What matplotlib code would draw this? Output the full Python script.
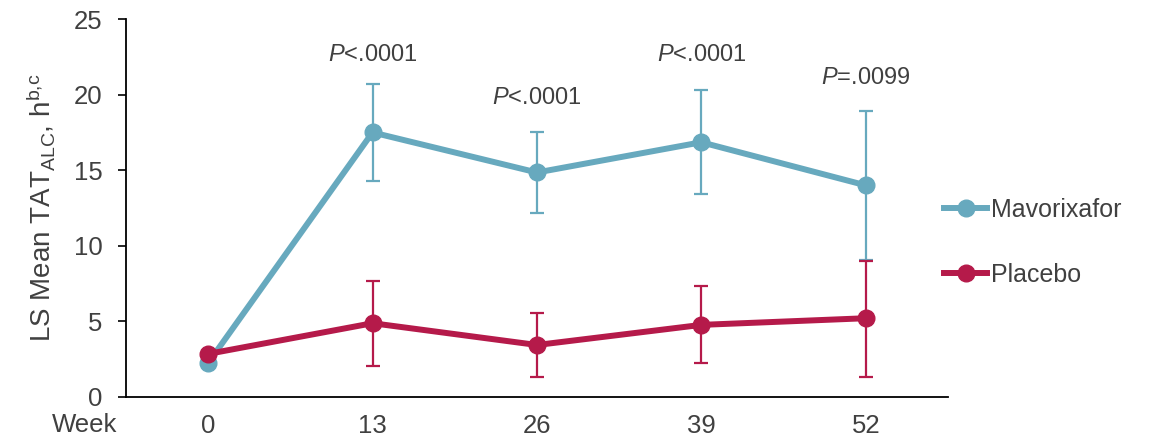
import matplotlib.pyplot as plt

plt.rcParams["font.family"] = ["Liberation Sans", "DejaVu Sans"]
plt.rcParams["mathtext.fontset"] = "custom"
plt.rcParams["mathtext.rm"] = "Liberation Sans"
plt.rcParams["mathtext.it"] = "Liberation Sans:italic"

weeks = ["0", "13", "26", "39", "52"]

mavo_mean = [2.25, 17.5, 14.85, 16.85, 14.0]
mavo_upper = [2.25, 20.7, 17.5, 20.3, 18.95]
mavo_lower = [2.25, 14.3, 12.2, 13.4, 9.07]

plac_mean = [2.85, 4.88, 3.44, 4.77, 5.21]
plac_upper = [2.85, 7.68, 5.54, 7.35, 9.0]
plac_lower = [2.85, 2.07, 1.3, 2.27, 1.3]

p_labels = ["", "<.0001", "<.0001", "<.0001", "=.0099"]
p_heights = [0, 22.6, 19.8, 22.6, 21.1]

teal = "#67a9be"
crimson = "#b51a4a"
grey = "#404040"

fig = plt.figure(figsize=(11.66, 4.41), dpi=100)
ax = fig.add_axes([0.108, 0.0998, 0.705, 0.857])

x = list(range(len(weeks)))

def draw(mean, lo, hi, color, label):
    err = [[m - l for m, l in zip(mean, lo)], [h - m for m, h in zip(mean, hi)]]
    ax.errorbar(x[1:], mean[1:], yerr=[err[0][1:], err[1][1:]], fmt="none",
                ecolor=color, elinewidth=1.6, capsize=5, capthick=1.6)
    ax.plot(x, mean, color=color, lw=4.3, marker="o", markersize=12, label=label)

draw(mavo_mean, mavo_lower, mavo_upper, teal, "Mavorixafor")
draw(plac_mean, plac_lower, plac_upper, crimson, "Placebo")

for i, (lab, h) in enumerate(zip(p_labels, p_heights)):
    if lab:
        ax.text(x[i], h, "$\\mathit{P}$" + lab, ha="center", va="center",
                fontsize=17, color=grey)

ax.set_xlim(-0.5, 4.5)
ax.set_ylim(0, 25)
ax.set_yticks([0, 5, 10, 15, 20, 25])
ax.set_xticks(x)
ax.set_xticklabels(weeks)
ax.tick_params(axis="y", labelsize=18.5, colors=grey, length=6, width=1.2, pad=11)
ax.tick_params(axis="x", labelsize=18.5, colors=grey, length=0, pad=12)
ax.tick_params(axis="both", color="black")
ax.spines["top"].set_visible(False)
ax.spines["right"].set_visible(False)
ax.spines["left"].set_linewidth(1.3)
ax.spines["bottom"].set_linewidth(1.3)

ax.set_ylabel("LS Mean TAT$_{\\mathrm{ALC}}$, h$^{\\mathrm{b{,}c}}$", fontsize=20,
              color=grey, labelpad=12)
ax.text(-0.01, -0.075, "Week", transform=ax.transAxes, ha="right", va="center",
        fontsize=18.5, color=grey)

fig.legend(loc="center left", bbox_to_anchor=(0.79, 0.45), frameon=False,
           fontsize=18, labelcolor=grey, handlelength=1.75, handletextpad=0.15,
           labelspacing=1.65)

fig.savefig("out.png", dpi=100)
